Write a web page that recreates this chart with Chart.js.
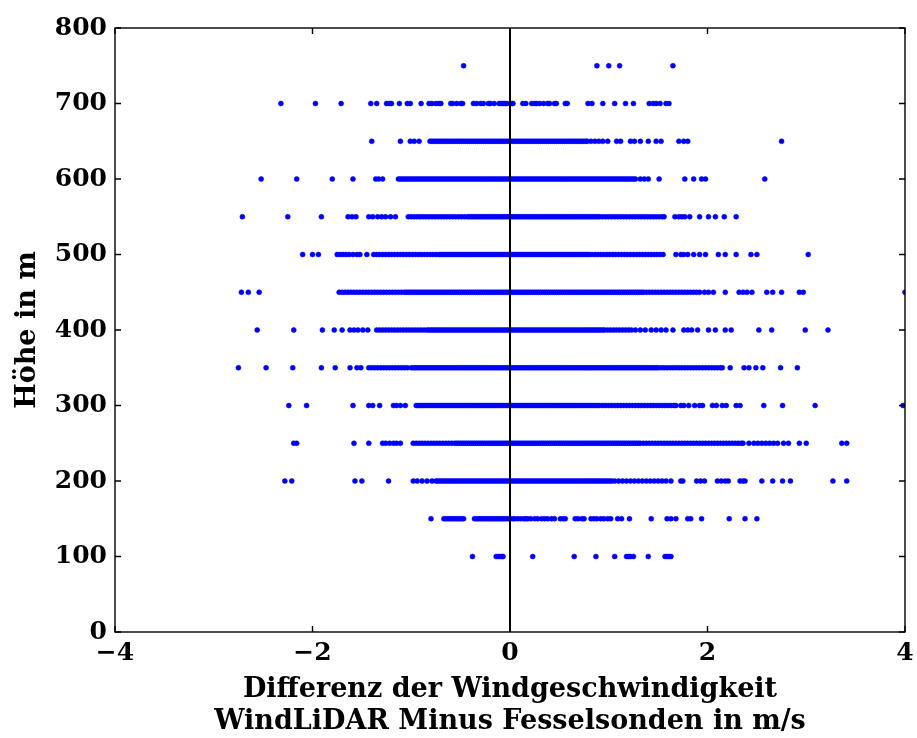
<!DOCTYPE html>
<html>
<head>
<meta charset="utf-8">
<script src="https://cdn.jsdelivr.net/npm/chart.js@4/dist/chart.umd.min.js"></script>
<style>
  html, body { margin: 0; padding: 0; background: #ffffff; }
  canvas { display: block; }
</style>
</head>
<body>
<canvas id="chart" width="917" height="738"></canvas>
<script>
// Measurement heights (m) and wind-speed differences (m/s) per height level
const heights = [750, 700, 650, 600, 550, 500, 450, 400, 350, 300, 250, 200, 150, 100];

const x750 = [-0.47, 0.88, 1.00, 1.11, 1.65];

const x700 = [-2.32,-1.97,-1.71,-1.41,-1.35,-1.25,-1.22,-1.20,-1.12,-1.04,-1.01,-0.90,-0.82,-0.79,-0.75,-0.72,-0.70,-0.60,-0.58,-0.54,-0.50,-0.48,-0.37,-0.34,-0.30,-0.27,-0.22,-0.20,-0.16,-0.11,-0.09,-0.07,-0.05,-0.03,0.02,0.03,0.13,0.16,0.22,0.25,0.27,0.30,0.34,0.38,0.40,0.45,0.47,0.56,0.58,0.79,0.83,0.94,1.06,1.17,1.25,1.41,1.45,1.48,1.52,1.58,1.61];

const x650 = [-1.40,-1.11,-1.01,-0.97,-0.92,
  -0.81,-0.79,-0.77,-0.75,-0.73,-0.71,-0.69,-0.67,-0.65,-0.63,-0.61,-0.59,-0.57,-0.55,-0.53,-0.51,-0.49,-0.47,-0.45,-0.43,-0.41,-0.39,-0.37,-0.35,-0.33,-0.31,-0.29,-0.27,-0.25,-0.23,-0.21,-0.19,-0.17,-0.15,-0.13,-0.11,-0.09,-0.07,-0.05,-0.03,-0.01,0.01,0.03,0.05,0.07,0.09,0.11,0.13,0.15,0.17,0.19,0.21,0.23,0.25,0.27,0.29,0.31,0.33,0.35,0.37,0.39,0.41,0.43,0.45,0.47,0.49,0.51,0.53,0.55,0.57,0.59,0.61,0.63,0.65,0.67,0.69,0.71,0.73,0.75,0.77,0.78,
  0.82,0.86,0.90,0.94,0.99,1.08,1.12,1.22,1.26,1.32,1.40,1.48,1.53,1.71,1.76,1.80,2.75];

const x600 = [-2.52,-2.16,-1.80,-1.59,-1.36,-1.33,-1.29,
  -1.13,-1.11,-1.09,-1.07,-1.05,-1.03,-1.01,-0.99,-0.97,-0.95,-0.93,-0.91,-0.89,-0.87,-0.85,-0.83,-0.81,-0.79,-0.77,-0.75,-0.73,-0.71,-0.69,-0.67,-0.65,-0.63,-0.61,-0.59,-0.57,-0.55,-0.53,-0.51,-0.49,-0.47,-0.45,-0.43,-0.41,-0.39,-0.37,-0.35,-0.33,-0.31,-0.29,-0.27,-0.25,-0.23,-0.21,-0.19,-0.17,-0.15,-0.13,-0.11,-0.09,-0.07,-0.05,-0.03,-0.01,0.01,0.03,0.05,0.07,0.09,0.11,0.13,0.15,0.17,0.19,0.21,0.23,0.25,0.27,0.29,0.31,0.33,0.35,0.37,0.39,0.41,0.43,0.45,0.47,0.49,0.51,0.53,0.55,0.57,0.59,0.61,0.63,0.65,0.67,0.69,0.71,0.73,0.75,0.77,0.79,0.81,0.83,0.85,0.87,0.89,0.91,0.93,0.95,0.97,0.99,1.01,1.03,1.05,1.07,1.09,1.11,1.13,1.15,1.17,1.19,1.21,1.23,1.25,1.27,
  1.32,1.36,1.40,1.51,1.77,1.86,1.94,1.98,2.58];

const x550 = [-2.71,-2.25,-1.91,-1.64,-1.60,-1.56,-1.43,-1.39,-1.34,-1.30,-1.26,-1.21,-1.16,
  -1.03,-1.00,-0.97,-0.94,-0.91,-0.88,-0.85,-0.82,-0.79,-0.76,-0.73,-0.70,-0.67,-0.64,-0.61,-0.58,-0.55,-0.52,-0.49,-0.46,
  -0.43,-0.41,-0.39,-0.37,-0.35,-0.33,-0.31,-0.29,-0.27,-0.25,-0.23,-0.21,-0.19,-0.17,-0.15,-0.13,-0.11,-0.09,-0.07,-0.05,-0.03,-0.01,0.01,0.03,0.05,0.07,0.09,0.11,0.13,0.15,0.17,0.19,0.21,0.23,0.25,0.27,0.29,0.31,0.33,0.35,0.37,0.39,0.41,0.43,0.45,0.47,0.49,0.51,0.53,0.55,0.57,0.59,0.61,0.63,0.65,0.67,0.69,0.71,0.73,0.75,0.77,0.79,0.81,0.83,0.85,0.87,0.89,0.91,
  0.94,0.97,1.00,1.03,1.06,1.09,1.12,1.15,1.18,1.21,1.24,1.27,1.30,1.33,1.36,1.39,1.42,1.45,1.48,1.51,1.54,1.56,
  1.67,1.71,1.74,1.77,1.82,1.92,2.01,2.08,2.17,2.29];

const x500 = [-2.10,-2.00,-1.94,-1.75,-1.72,-1.69,-1.66,-1.63,-1.59,-1.55,-1.52,-1.45,
  -1.38,-1.35,-1.32,-1.29,-1.26,-1.23,-1.20,-1.17,-1.14,-1.11,-1.08,-1.05,-1.02,-0.99,-0.96,-0.93,-0.90,-0.87,-0.84,-0.81,-0.78,-0.75,-0.72,
  -0.70,-0.68,-0.66,-0.64,-0.62,-0.60,-0.58,-0.56,-0.54,-0.52,-0.50,-0.48,-0.46,-0.44,-0.42,-0.40,-0.38,-0.36,-0.34,-0.32,-0.30,-0.28,-0.26,-0.24,-0.22,-0.20,-0.18,-0.16,-0.14,-0.12,-0.10,-0.08,-0.06,-0.04,-0.02,0.00,0.02,0.04,0.06,0.08,0.10,0.12,0.14,0.16,0.18,0.20,0.22,0.24,0.26,0.28,0.30,0.32,0.34,0.36,0.38,0.40,0.42,0.44,0.46,0.48,0.50,0.52,0.54,0.56,0.58,0.60,0.62,0.64,0.66,0.68,0.70,0.72,0.74,0.76,0.78,0.80,
  0.83,0.86,0.89,0.92,0.95,0.98,1.01,1.04,1.07,1.10,1.13,1.16,1.19,1.22,1.25,1.28,1.31,1.34,1.37,1.40,1.43,1.46,1.49,1.52,1.55,
  1.68,1.73,1.76,1.80,1.86,1.92,1.98,2.11,2.18,2.29,2.44,2.50,3.02];

const x450 = [-2.72,-2.65,-2.54,
  -1.73,-1.70,-1.67,-1.64,-1.61,-1.58,-1.55,-1.52,-1.49,-1.46,-1.43,-1.40,-1.37,-1.34,-1.31,-1.28,-1.25,-1.22,-1.19,-1.16,-1.13,-1.10,-1.07,
  -1.05,-1.03,-1.01,-0.99,-0.97,-0.95,-0.93,-0.91,-0.89,-0.87,-0.85,-0.83,-0.81,-0.79,-0.77,-0.75,-0.73,-0.71,-0.69,-0.67,-0.65,-0.63,-0.61,-0.59,-0.57,-0.55,-0.53,-0.51,-0.49,-0.47,-0.45,-0.43,-0.41,-0.39,-0.37,-0.35,-0.33,-0.31,-0.29,-0.27,-0.25,-0.23,-0.21,-0.19,-0.17,-0.15,-0.13,-0.11,-0.09,-0.07,-0.05,-0.03,-0.01,0.01,0.03,0.05,0.07,0.09,0.11,0.13,0.15,0.17,0.19,0.21,0.23,0.25,0.27,0.29,0.31,0.33,0.35,0.37,0.39,0.41,0.43,0.45,0.47,0.49,0.51,0.53,0.55,0.57,0.59,0.61,0.63,0.65,0.67,0.69,0.71,0.73,0.75,0.77,0.79,0.81,0.83,0.85,0.87,0.89,0.91,0.93,0.95,0.97,0.99,1.01,1.03,1.05,1.07,1.09,1.11,1.13,1.15,1.17,1.19,1.21,1.23,1.25,1.27,1.29,1.31,1.33,1.35,
  1.38,1.41,1.44,1.47,1.50,1.53,1.56,1.59,1.62,1.65,1.68,1.71,1.74,1.77,1.80,1.83,1.86,1.89,1.92,
  1.97,2.01,2.06,2.18,2.32,2.36,2.40,2.45,2.60,2.66,2.75,2.93,2.97,4.00];

const x400 = [-2.56,-2.19,-1.90,-1.78,-1.70,-1.62,-1.58,-1.54,-1.49,-1.44,
  -1.35,-1.32,-1.29,-1.26,-1.23,-1.20,-1.17,-1.14,-1.11,-1.08,-1.05,-1.02,-0.99,-0.96,-0.93,-0.90,-0.87,
  -0.84,-0.82,-0.80,-0.78,-0.76,-0.74,-0.72,-0.70,-0.68,-0.66,-0.64,-0.62,-0.60,-0.58,-0.56,-0.54,-0.52,-0.50,-0.48,-0.46,-0.44,-0.42,-0.40,-0.38,-0.36,-0.34,-0.32,-0.30,-0.28,-0.26,-0.24,-0.22,-0.20,-0.18,-0.16,-0.14,-0.12,-0.10,-0.08,-0.06,-0.04,-0.02,0.00,0.02,0.04,0.06,0.08,0.10,0.12,0.14,0.16,0.18,0.20,0.22,0.24,0.26,0.28,0.30,0.32,0.34,0.36,0.38,0.40,0.42,0.44,0.46,0.48,0.50,0.52,0.54,0.56,0.58,0.60,0.62,0.64,0.66,0.68,0.70,0.72,0.74,0.76,0.78,0.80,0.82,0.84,0.86,0.88,0.90,0.92,0.94,0.96,
  0.99,1.02,1.05,1.08,1.11,1.14,1.17,1.20,1.23,1.27,1.32,1.37,1.43,1.48,1.53,1.58,1.65,1.76,1.80,1.84,1.90,2.01,2.08,2.18,2.24,2.52,2.65,2.99,3.22];

const x350 = [-2.75,-2.47,-2.20,-1.91,-1.77,-1.62,-1.55,-1.51,
  -1.43,-1.40,-1.37,-1.34,-1.31,-1.28,-1.25,-1.22,-1.19,-1.16,-1.13,-1.10,-1.07,-1.04,
  -1.00,-0.98,-0.96,-0.94,-0.92,-0.90,-0.88,-0.86,-0.84,-0.82,-0.80,-0.78,-0.76,-0.74,-0.72,-0.70,-0.68,-0.66,-0.64,-0.62,-0.60,-0.58,-0.56,-0.54,-0.52,-0.50,-0.48,-0.46,-0.44,-0.42,-0.40,-0.38,-0.36,-0.34,-0.32,-0.30,-0.28,-0.26,-0.24,-0.22,-0.20,-0.18,-0.16,-0.14,-0.12,-0.10,-0.08,-0.06,-0.04,-0.02,0.00,0.02,0.04,0.06,0.08,0.10,0.12,0.14,0.16,0.18,0.20,0.22,0.24,0.26,0.28,0.30,0.32,0.34,0.36,0.38,0.40,0.42,0.44,0.46,0.48,0.50,0.52,0.54,0.56,0.58,0.60,0.62,0.64,0.66,0.68,0.70,0.72,0.74,0.76,0.78,0.80,0.82,0.84,0.86,0.88,0.90,0.92,0.94,0.96,0.98,1.00,1.02,1.04,1.06,1.08,1.10,1.12,1.14,1.16,1.18,1.20,1.22,1.24,1.26,1.28,1.30,1.32,1.34,1.36,1.38,1.40,1.42,1.44,1.46,1.48,1.50,
  1.53,1.56,1.59,1.62,1.65,1.68,1.71,1.74,1.77,1.80,1.83,1.86,1.89,1.92,1.95,1.98,2.01,2.04,2.07,2.10,2.13,2.15,
  2.23,2.37,2.42,2.49,2.56,2.74,2.91];

const x300 = [-2.24,-2.06,-1.59,-1.43,-1.39,-1.32,-1.18,-1.15,-1.11,-1.06,
  -0.95,-0.93,-0.91,-0.89,-0.87,-0.85,-0.83,-0.81,-0.79,-0.77,-0.75,-0.73,-0.71,-0.69,-0.67,-0.65,-0.63,-0.61,-0.59,-0.57,-0.55,-0.53,-0.51,-0.49,-0.47,-0.45,-0.43,-0.41,-0.39,-0.37,-0.35,-0.33,-0.31,-0.29,-0.27,-0.25,-0.23,-0.21,-0.19,-0.17,-0.15,-0.13,-0.11,-0.09,-0.07,-0.05,-0.03,-0.01,0.01,0.03,0.05,0.07,0.09,0.11,0.13,0.15,0.17,0.19,0.21,0.23,0.25,0.27,0.29,0.31,0.33,0.35,0.37,0.39,0.41,0.43,0.45,0.47,0.49,0.51,0.53,0.55,0.57,0.59,0.61,0.63,0.65,0.67,0.69,0.71,0.73,0.75,0.77,0.79,0.81,0.83,0.85,0.87,0.89,0.91,
  0.94,0.97,1.00,1.03,1.06,1.09,1.12,1.15,1.18,1.21,1.24,1.27,1.30,1.33,1.36,1.39,1.42,1.45,1.48,1.51,1.54,1.57,1.60,1.63,1.66,1.68,
  1.73,1.76,1.81,1.87,1.92,1.95,2.05,2.09,2.15,2.19,2.29,2.33,2.57,2.76,3.09,3.98];

const x250 = [-2.19,-2.16,-1.58,-1.43,-1.29,-1.26,-1.22,-1.18,-1.15,-1.11,
  -0.98,-0.95,-0.92,-0.89,-0.86,-0.83,-0.80,-0.77,-0.74,-0.71,-0.68,-0.65,-0.62,-0.59,-0.56,
  -0.54,-0.52,-0.50,-0.48,-0.46,-0.44,-0.42,-0.40,-0.38,-0.36,-0.34,-0.32,-0.30,-0.28,-0.26,-0.24,-0.22,-0.20,-0.18,-0.16,-0.14,-0.12,-0.10,-0.08,-0.06,-0.04,-0.02,0.00,0.02,0.04,0.06,0.08,0.10,0.12,0.14,0.16,0.18,0.20,0.22,0.24,0.26,0.28,0.30,0.32,0.34,0.36,0.38,0.40,0.42,0.44,0.46,0.48,0.50,0.52,0.54,0.56,0.58,0.60,0.62,0.64,0.66,0.68,0.70,0.72,0.74,0.76,0.78,0.80,0.82,0.84,0.86,0.88,0.90,0.92,0.94,0.96,0.98,1.00,1.02,1.04,1.06,1.08,1.10,1.12,1.14,1.16,1.18,1.20,1.22,1.24,1.26,1.28,1.30,1.32,
  1.35,1.38,1.41,1.44,1.47,1.50,1.53,1.56,1.59,1.62,1.65,1.68,1.71,1.74,1.77,1.80,1.83,1.86,1.89,1.92,1.95,1.98,2.01,2.04,2.07,2.10,2.13,2.16,2.19,2.22,2.25,2.28,2.31,2.34,2.36,
  2.42,2.47,2.51,2.55,2.59,2.63,2.67,2.71,2.77,2.82,2.93,3.00,3.36,3.41];

const x200 = [-2.28,-2.21,-1.57,-1.50,-1.23,-0.98,-0.94,-0.89,-0.84,-0.79,
  -0.75,-0.73,-0.71,-0.69,-0.67,-0.65,-0.63,-0.61,-0.59,-0.57,-0.55,-0.53,-0.51,-0.49,-0.47,-0.45,-0.43,-0.41,-0.39,-0.37,-0.35,-0.33,-0.31,-0.29,-0.27,-0.25,-0.23,-0.21,-0.19,-0.17,-0.15,-0.13,-0.11,-0.09,-0.07,-0.05,-0.03,-0.01,0.01,0.03,0.05,0.07,0.09,0.11,0.13,0.15,0.17,0.19,0.21,0.23,0.25,0.27,0.29,0.31,0.33,0.35,0.37,0.39,0.41,0.43,0.45,0.47,0.49,0.51,0.53,0.55,0.57,0.59,0.61,0.63,0.65,0.67,0.69,0.71,0.73,0.75,0.77,0.79,0.81,0.83,0.85,0.87,0.89,0.91,0.93,0.95,0.97,0.99,1.01,1.03,
  1.06,1.10,1.14,1.18,1.22,1.26,1.30,1.34,1.38,1.42,1.46,1.50,1.54,1.58,1.63,1.73,1.75,1.89,1.93,1.97,2.10,2.14,2.18,2.21,2.33,2.36,2.38,2.55,2.66,2.76,2.84,3.27,3.41];

const x150 = [-0.80,-0.67,-0.65,-0.63,-0.61,-0.59,-0.57,-0.55,-0.53,-0.51,-0.49,-0.47,
  -0.36,-0.34,-0.32,-0.30,-0.28,-0.26,-0.24,-0.22,-0.20,-0.18,-0.16,-0.14,-0.12,-0.10,-0.08,-0.06,-0.04,-0.02,0.00,
  0.03,0.05,0.08,0.11,0.14,0.16,0.18,0.21,0.25,0.28,0.32,0.35,0.38,0.42,0.45,0.51,0.54,0.56,0.66,0.69,0.73,0.75,0.82,0.85,0.88,0.92,0.95,0.99,1.02,1.09,1.13,1.21,1.43,1.59,1.63,1.68,1.80,1.83,1.94,2.22,2.38,2.50];

const x100 = [-0.38,-0.14,-0.12,-0.10,-0.08,-0.07,0.23,0.65,0.87,1.06,1.18,1.20,1.22,1.25,1.40,1.57,1.59,1.61,1.63];

const rowValues = [x750, x700, x650, x600, x550, x500, x450, x400, x350, x300, x250, x200, x150, x100];

// Axis tick values and text
const xTicks = [-4, -2, 0, 2, 4];
const yTicks = [0, 100, 200, 300, 400, 500, 600, 700, 800];
const xTitle = ['Differenz der Windgeschwindigkeit', 'WindLiDAR Minus Fesselsonden in m/s'];
const yTitle = 'H\u00f6he in m';

const points = [];
heights.forEach((h, i) => rowValues[i].forEach(v => points.push({ x: v, y: h })));

const TICK_FONT = { family: '"DejaVu Serif", serif', weight: 'bold', size: 25 };
const TITLE_FONT = { family: '"DejaVu Serif", serif', weight: 'bold', size: 27, lineHeight: '32px' };
const fmt = v => (v < 0 ? '\u2212' + Math.abs(v) : String(v));

// Box around the plot area with inward tick marks on all four sides
const frame = {
  id: 'frame',
  afterDatasetsDraw(chart) {
    const { ctx, chartArea: a, scales } = chart;
    const len = 6;
    ctx.save();
    ctx.strokeStyle = '#000';
    ctx.lineWidth = 1.4;
    ctx.beginPath();
    xTicks.forEach(v => {
      const px = scales.x.getPixelForValue(v);
      ctx.moveTo(px, a.bottom); ctx.lineTo(px, a.bottom - len);
      ctx.moveTo(px, a.top); ctx.lineTo(px, a.top + len);
    });
    yTicks.forEach(v => {
      const py = scales.y.getPixelForValue(v);
      ctx.moveTo(a.left, py); ctx.lineTo(a.left + len, py);
      ctx.moveTo(a.right, py); ctx.lineTo(a.right - len, py);
    });
    ctx.stroke();
    ctx.strokeRect(a.left, a.top, a.right - a.left, a.bottom - a.top);
    ctx.restore();
  }
};

new Chart(document.getElementById('chart'), {
  type: 'scatter',
  data: {
    datasets: [
      {
        type: 'line',
        data: [{ x: 0, y: 0 }, { x: 0, y: 800 }],
        borderColor: '#000000',
        borderWidth: 2,
        pointRadius: 0,
        fill: false
      },
      {
        data: points,
        backgroundColor: '#0000ff',
        borderColor: '#0000ff',
        borderWidth: 0.5,
        pointRadius: 2.5,
        pointHoverRadius: 2.5
      }
    ]
  },
  options: {
    responsive: false,
    animation: false,
    devicePixelRatio: 1,
    events: [],
    layout: { padding: { left: 0, right: 12, top: 28, bottom: 0 } },
    plugins: { legend: { display: false }, tooltip: { enabled: false } },
    scales: {
      x: {
        type: 'linear',
        min: -4, max: 4,
        afterBuildTicks: s => { s.ticks = xTicks.map(v => ({ value: v })); },
        afterFit: s => { s.height = 106; s.paddingLeft = 0; s.paddingRight = 0; },
        ticks: { callback: fmt, font: TICK_FONT, color: '#000', padding: 6, maxRotation: 0, autoSkip: false },
        grid: { display: false, drawTicks: false },
        border: { display: false },
        title: { display: true, text: xTitle, font: TITLE_FONT, color: '#000', padding: 0 }
      },
      y: {
        type: 'linear',
        min: 0, max: 800,
        afterBuildTicks: s => { s.ticks = yTicks.map(v => ({ value: v })); },
        afterFit: s => { s.width = 115; s.paddingTop = 0; s.paddingBottom = 0; },
        ticks: { callback: fmt, font: TICK_FONT, color: '#000', padding: 8, autoSkip: false },
        grid: { display: false, drawTicks: false },
        border: { display: false },
        title: { display: true, text: yTitle, font: TITLE_FONT, color: '#000', padding: { top: 12, bottom: 0 } }
      }
    }
  },
  plugins: [frame]
});
</script>
</body>
</html>
